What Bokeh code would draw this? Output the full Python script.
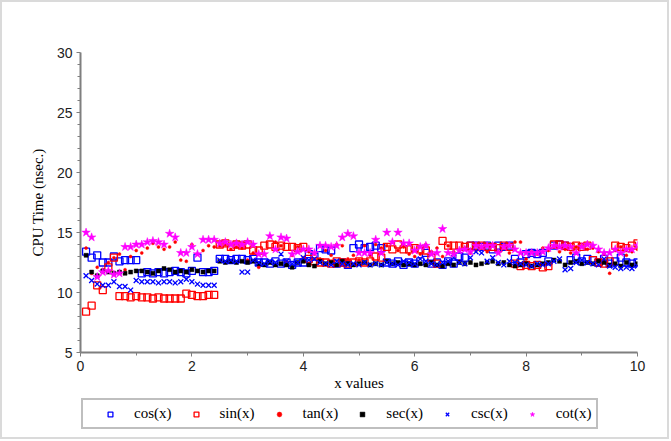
from bokeh.plotting import figure
from bokeh.layouts import column
from bokeh.models import Range1d, FixedTicker, Legend, LegendItem
from bokeh.embed import file_html
from bokeh.resources import INLINE

x_values = [0.1, 0.2, 0.3, 0.4, 0.5, 0.6, 0.7, 0.8, 0.9, 1.0,
            1.1, 1.2, 1.3, 1.4, 1.5, 1.6, 1.7, 1.8, 1.9, 2.0,
            2.1, 2.2, 2.3, 2.4, 2.5, 2.6, 2.7, 2.8, 2.9, 3.0,
            3.1, 3.2, 3.3, 3.4, 3.5, 3.6, 3.7, 3.8, 3.9, 4.0,
            4.1, 4.2, 4.3, 4.4, 4.5, 4.6, 4.7, 4.8, 4.9, 5.0,
            5.1, 5.2, 5.3, 5.4, 5.5, 5.6, 5.7, 5.8, 5.9, 6.0,
            6.1, 6.2, 6.3, 6.4, 6.5, 6.6, 6.7, 6.8, 6.9, 7.0,
            7.1, 7.2, 7.3, 7.4, 7.5, 7.6, 7.7, 7.8, 7.9, 8.0,
            8.1, 8.2, 8.3, 8.4, 8.5, 8.6, 8.7, 8.8, 8.9, 9.0,
            9.1, 9.2, 9.3, 9.4, 9.5, 9.6, 9.7, 9.8, 9.9, 10.0]

cos_t = [13.4, 12.9, 13.1, 12.5, 12.5, 13.0, 12.6, 12.7, 12.7, 12.7,
         11.6, 11.7, 11.6, 11.7, 11.6, 11.7, 11.8, 11.7, 11.6, 11.8,
         12.9, 11.7, 11.7, 11.8, 12.8, 12.8, 12.7, 12.8, 12.8, 12.7,
         12.8, 12.5, 12.5, 12.4, 12.6, 12.4, 12.5, 12.3, 12.5, 12.5,
         13.2, 13.0, 13.7, 13.6, 13.5, 12.4, 12.5, 12.3, 13.7, 14.0,
         13.7, 13.8, 13.9, 13.7, 12.5, 12.4, 12.6, 12.3, 12.5, 12.4,
         12.6, 13.3, 12.4, 12.5, 12.3, 12.6, 12.4, 13.0, 12.9, 13.9,
         13.9, 13.8, 13.9, 13.6, 13.9, 13.8, 13.9, 12.8, 12.5, 13.2,
         13.3, 13.2, 13.3, 12.6, 13.9, 14.0, 13.9, 12.7, 12.9, 12.6,
         12.8, 12.7, 12.5, 12.8, 12.4, 12.6, 12.9, 12.5, 12.4, 12.5]

sin_t = [8.4, 8.9, 10.6, 10.2, 12.1, 12.9, 9.7, 9.7, 9.6, 9.7,
         9.6, 9.6, 9.5, 9.6, 9.5, 9.5, 9.5, 9.5, 9.9, 9.8,
         9.7, 9.7, 9.8, 9.8, 14.0, 14.1, 13.8, 14.0, 13.9, 14.0,
         13.5, 13.5, 13.9, 14.0, 13.8, 13.9, 13.8, 13.8, 13.7, 13.8,
         12.8, 12.6, 12.5, 12.5, 12.4, 12.6, 12.5, 12.4, 12.5, 12.6,
         12.5, 12.6, 13.0, 12.9, 13.8, 13.6, 14.0, 13.6, 13.6, 13.7,
         13.6, 13.5, 12.9, 12.4, 14.3, 13.9, 13.9, 13.9, 13.8, 13.9,
         13.8, 13.9, 13.8, 13.8, 13.7, 13.9, 13.8, 12.4, 12.2, 12.3,
         12.2, 12.3, 12.1, 12.2, 14.0, 14.0, 13.9, 13.8, 13.9, 13.8,
         13.9, 12.7, 12.5, 12.4, 12.6, 13.9, 13.8, 13.7, 13.9, 14.1]

tan_t = [13.7, 11.6, 12.1, 11.9, 12.5, 12.9, 13.2, 11.9, 13.0, 13.5,
         13.3, 13.7, 14.1, 13.8, 13.6, 13.8, 14.2, 12.7, 12.6, 14.0,
         13.2, 13.5, 13.9, 13.8, 13.9, 14.0, 13.6, 13.8, 13.7, 12.7,
         13.3, 12.1, 13.2, 14.7, 14.2, 13.9, 12.6, 13.1, 13.8, 12.9,
         13.4, 13.2, 12.8, 13.5, 13.1, 14.0, 13.9, 12.8, 13.1, 12.7,
         13.9, 13.1, 14.0, 13.7, 13.9, 14.2, 13.5, 13.8, 13.2, 13.0,
         13.2, 14.0, 13.4, 13.7, 13.0, 13.9, 13.4, 12.6, 13.7, 13.3,
         13.5, 13.8, 13.4, 13.9, 13.4, 13.9, 13.3, 14.2, 14.2, 12.8,
         13.4, 13.2, 13.7, 13.5, 13.9, 13.4, 13.6, 13.3, 13.8, 13.9,
         13.6, 13.7, 13.4, 13.2, 11.6, 13.5, 13.8, 13.1, 13.4, 13.6]

sec_t = [13.1, 11.7, 11.4, 11.8, 11.7, 11.6, 11.7, 11.6, 11.7, 11.8,
         11.8, 11.7, 11.6, 11.8, 12.0, 11.9, 11.7, 11.8, 11.7, 11.9,
         11.8, 11.7, 11.8, 11.8, 12.6, 12.5, 12.6, 12.5, 12.6, 12.5,
         12.6, 12.4, 12.3, 12.5, 12.3, 12.4, 12.3, 12.1, 12.5, 12.6,
         12.3, 12.2, 12.6, 12.4, 12.5, 12.3, 12.6, 12.4, 12.3, 12.4,
         12.5, 12.3, 12.4, 12.3, 12.6, 12.4, 12.5, 12.3, 12.4, 12.3,
         12.4, 12.3, 12.5, 12.3, 12.2, 12.4, 12.3, 12.5, 12.4, 12.5,
         12.3, 12.4, 12.5, 12.6, 12.4, 12.5, 12.3, 12.2, 12.3, 12.4,
         12.2, 12.3, 12.4, 12.5, 12.7, 12.6, 12.3, 12.5, 12.6, 12.4,
         12.5, 12.4, 12.6, 12.5, 12.3, 12.4, 12.2, 12.5, 12.3, 12.4]

csc_t = [11.4, 11.0, 10.7, 10.6, 10.6, 10.9, 10.5, 10.5, 10.2, 11.0,
         10.9, 10.9, 10.9, 10.8, 10.9, 10.9, 10.8, 10.9, 11.1, 10.9,
         10.7, 10.6, 10.6, 10.6, 12.7, 12.6, 12.7, 12.6, 11.7, 11.7,
         12.7, 12.5, 12.4, 12.6, 12.5, 13.2, 12.6, 12.4, 12.5, 12.9,
         12.7, 12.8, 12.5, 12.4, 12.3, 12.6, 12.4, 12.3, 12.4, 12.3,
         12.5, 12.3, 12.4, 12.3, 12.5, 12.4, 12.3, 12.6, 12.5, 12.4,
         12.8, 12.6, 12.4, 12.3, 12.5, 12.6, 12.9, 12.5, 12.4, 12.9,
         13.4, 13.3, 12.6, 12.9, 12.5, 12.3, 12.6, 12.5, 12.4, 12.3,
         12.2, 12.4, 12.3, 12.4, 12.6, 12.8, 11.9, 12.0, 12.5, 12.7,
         12.5, 12.4, 12.3, 12.8, 12.2, 12.1, 12.0, 12.1, 12.0, 12.2]

cot_t = [15.0, 14.6, 11.3, 11.7, 11.8, 11.5, 11.6, 13.8, 13.8, 14.0,
         14.0, 14.2, 14.3, 14.2, 14.0, 14.9, 14.6, 13.3, 13.3, 13.8,
         13.2, 14.4, 14.4, 14.4, 14.1, 14.2, 14.0, 14.1, 14.0, 14.2,
         14.0, 13.2, 13.2, 14.7, 13.6, 14.6, 14.5, 13.2, 13.4, 13.6,
         13.6, 13.3, 13.9, 13.9, 13.8, 13.9, 14.6, 14.9, 14.7, 13.3,
         13.3, 13.3, 14.4, 13.3, 15.0, 14.2, 15.0, 14.1, 14.1, 13.5,
         13.8, 13.9, 13.2, 13.3, 15.3, 13.3, 13.2, 13.5, 13.6, 13.4,
         13.9, 13.8, 13.9, 13.9, 13.3, 13.8, 13.9, 13.6, 13.3, 13.3,
         13.3, 13.3, 13.4, 13.7, 13.9, 13.8, 13.9, 13.8, 13.3, 13.8,
         14.0, 13.9, 13.6, 13.3, 13.3, 13.6, 13.3, 13.6, 13.6, 13.9]

legend_labels = ["cos(x)", "sin(x)", "tan(x)", "sec(x)", "csc(x)", "cot(x)"]
x_ticks = [0, 2, 4, 6, 8, 10]
x_minor = [1, 3, 5, 7, 9]
y_ticks = [5, 10, 15, 20, 25, 30]
y_minor = [6, 7, 8, 9, 11, 12, 13, 14, 16, 17, 18, 19, 21, 22, 23, 24, 26, 27, 28, 29]

AX = "#7f7f7f"
SERIF = "Liberation Serif"
SANS = "Liberation Sans"

series = [
    (cos_t, dict(marker="square", size=7, fill_color=None, line_color="#0000ff", line_width=1.3)),
    (sin_t, dict(marker="square", size=7, fill_color=None, line_color="#ff0000", line_width=1.3)),
    (tan_t, dict(marker="circle", size=3, fill_color="#ff0000", line_color="#ff0000", line_width=0.5)),
    (sec_t, dict(marker="square", size=4, fill_color="black", line_color="black", line_width=0.5)),
    (csc_t, dict(marker="x", size=7, line_color="#0000ff", line_width=1.3)),
    (cot_t, dict(marker="star", size=9, fill_color="#ff00ff", line_color="#ff00ff", line_width=0.5)),
]

# ---------------- main plot ----------------
p = figure(frame_width=557, frame_height=300, output_backend="svg", toolbar_location=None,
           x_range=Range1d(0, 10), y_range=Range1d(5, 30),
           min_border_left=78, min_border_right=30, min_border_top=50,
           min_border_bottom=45, background_fill_color="white",
           border_fill_color="white")
p.outline_line_color = None
p.xgrid.visible = False
p.ygrid.visible = False

p.xaxis.ticker = FixedTicker(ticks=x_ticks, minor_ticks=x_minor)
p.yaxis.ticker = FixedTicker(ticks=y_ticks, minor_ticks=y_minor)
for ax in (p.xaxis[0], p.yaxis[0]):
    ax.axis_line_color = AX
    ax.axis_line_width = 2
    ax.major_tick_line_color = AX
    ax.minor_tick_line_color = AX
    ax.major_tick_line_width = 1
    ax.minor_tick_line_width = 1
    ax.major_tick_out = 4
    ax.major_tick_in = 0
    ax.minor_tick_out = 3
    ax.minor_tick_in = 0
    ax.major_label_text_font = SANS
    ax.major_label_text_font_size = "14px"
    ax.major_label_text_color = "#222222"
    ax.major_label_standoff = 4
    ax.axis_label_text_font = SERIF
    ax.axis_label_text_font_size = "15px"
    ax.axis_label_text_font_style = "normal"
    ax.axis_label_text_color = "black"
p.xaxis.axis_label = "x values"
p.yaxis.axis_label = "CPU Time (nsec.)"
p.xaxis.axis_label_standoff = 1
p.yaxis.axis_label_standoff = 8

for vals, style in series:
    p.scatter(x_values, vals, **style)

# ---------------- legend strip ----------------
# same series drawn in a strip whose y range lies above the data, so only the legend shows
leg = figure(frame_width=557, frame_height=40, output_backend="svg", toolbar_location=None,
             x_range=Range1d(0, 10), y_range=Range1d(100, 101),
             x_axis_location=None, y_axis_location=None,
             min_border_left=78, min_border_right=30, min_border_top=0,
             min_border_bottom=0, background_fill_color="white",
             border_fill_color="white")
leg.outline_line_color = None
leg.xgrid.visible = False
leg.ygrid.visible = False
leg_renderers = [leg.scatter(x_values, vals, **style) for vals, style in series]

items = [LegendItem(label=lab, renderers=[r]) for lab, r in zip(legend_labels, leg_renderers)]
legend = Legend(items=items, orientation="horizontal", location="top_left",
                glyph_width=44, glyph_height=12, label_standoff=2, spacing=2,
                padding=5, margin=1, label_height=14,
                border_line_color="#808080", border_line_width=2,
                label_text_font=SERIF, label_text_font_size="15px",
                label_text_color="black", background_fill_alpha=1.0)
leg.add_layout(legend, "center")

layout = column(p, leg, spacing=0, styles={"border": "2px solid #dadada"})

open("out.html", "w").write(file_html(layout, INLINE))
